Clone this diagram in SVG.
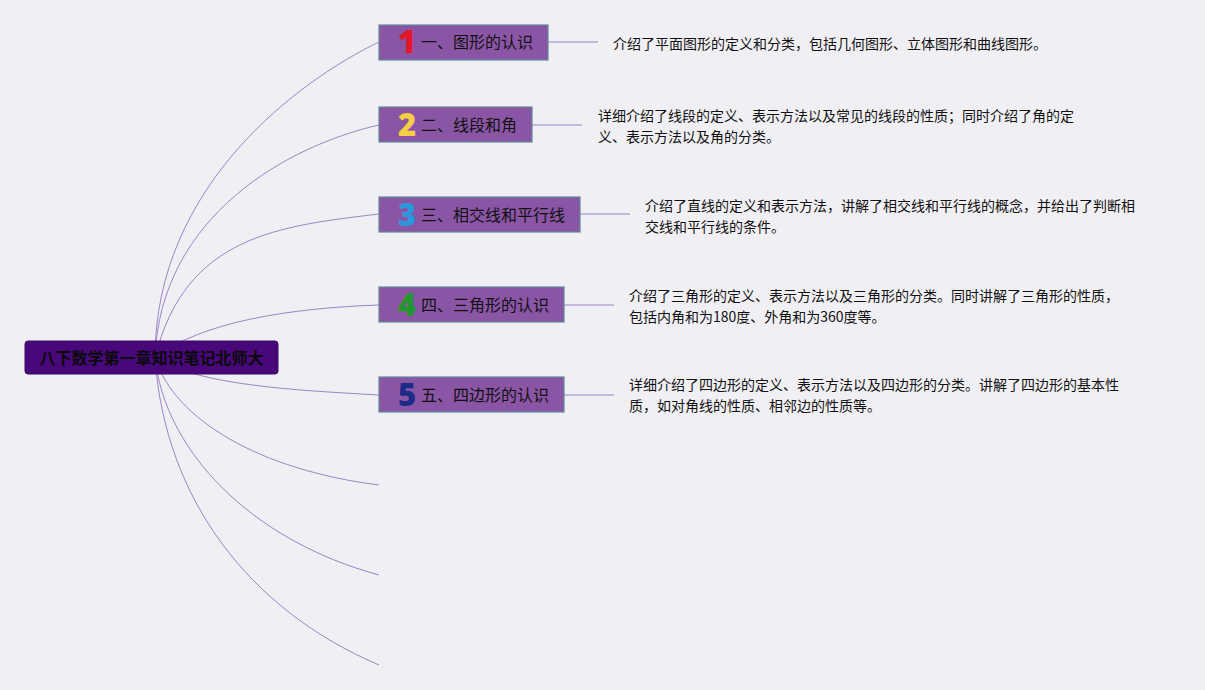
<svg xmlns="http://www.w3.org/2000/svg" width="1205" height="690" viewBox="0 0 1205 690">
<style>
.bg{fill:#f0eff3}
.curve{fill:none;stroke:#9a86c6;stroke-width:1}
.stub{fill:none;stroke:#b8a6d6;stroke-width:1.5}
.box{fill:#8b55a6;stroke:#5e8a98;stroke-width:1.2}
.root{fill:#48087a;stroke:#3a0862;stroke-width:1}
.lbl{font-family:"Noto Sans CJK SC","Noto Sans",sans-serif;font-size:16px;fill:#111}
.rt{font-family:"Noto Sans CJK SC","Noto Sans",sans-serif;font-size:16px;font-weight:bold;fill:#0a0a0a}
.num{font-family:"Open Sans","Noto Sans",sans-serif;font-size:31px;font-weight:800;text-anchor:middle}
.desc{font-family:"Noto Sans CJK SC","Noto Sans",sans-serif;font-size:14px;fill:#111}
</style>
<rect class="bg" x="0" y="0" width="1205" height="690"/>
<g id="connectors">
<path class="curve" d="M155,358 C155,185 300,80 379,42"/>
<path class="curve" d="M155,358 C160,215 290,145 379,125"/>
<path class="curve" d="M155,358 C185,235 280,226 379,214"/>
<path class="curve" d="M155,358 C200,322 290,308 379,305"/>
<path class="curve" d="M155,358 C200,385 290,390 379,395"/>
<path class="curve" d="M155,358 C175,420 260,470 379,485"/>
<path class="curve" d="M155,358 C165,450 250,540 379,575"/>
<path class="curve" d="M155,358 C165,500 250,610 379,665"/>
<path class="stub" d="M548,42 H598"/>
<path class="stub" d="M532,125 H582"/>
<path class="stub" d="M580,214 H630"/>
<path class="stub" d="M564,305 H614"/>
<path class="stub" d="M564,395 H614"/>
</g>
<g id="root">
<rect class="root" x="25" y="341" width="253" height="33" rx="3"/>
<text class="rt" x="151.5" y="363.5" text-anchor="middle">八下数学第一章知识笔记北师大</text>
</g>
<g id="n1">
<rect class="box" x="379" y="25" width="169" height="35"/>
<text class="num" x="407" y="53" fill="#e3162c">1</text>
<text class="lbl" x="421" y="48">一、图形的认识</text>
</g>
<g id="n2">
<rect class="box" x="379" y="107" width="153" height="35"/>
<text class="num" x="407" y="136" fill="#f4cf45">2</text>
<text class="lbl" x="421" y="131">二、线段和角</text>
</g>
<g id="n3">
<rect class="box" x="379" y="197" width="201" height="35"/>
<text class="num" x="407" y="226" fill="#2a98dd">3</text>
<text class="lbl" x="421" y="221">三、相交线和平行线</text>
</g>
<g id="n4">
<rect class="box" x="379" y="287" width="185" height="35"/>
<text class="num" x="407" y="316" fill="#24962f">4</text>
<text class="lbl" x="421" y="311">四、三角形的认识</text>
</g>
<g id="n5">
<rect class="box" x="379" y="377" width="185" height="35"/>
<text class="num" x="407" y="406" fill="#1d2a88">5</text>
<text class="lbl" x="421" y="401">五、四边形的认识</text>
</g>
<g id="d1">
<text class="desc" x="613" y="49">介绍了平面图形的定义和分类，包括几何图形、立体图形和曲线图形。</text>
</g>
<g id="d2">
<text class="desc" x="598" y="121">详细介绍了线段的定义、表示方法以及常见的线段的性质；同时介绍了角的定</text>
<text class="desc" x="598" y="142">义、表示方法以及角的分类。</text>
</g>
<g id="d3">
<text class="desc" x="645" y="211">介绍了直线的定义和表示方法，讲解了相交线和平行线的概念，并给出了判断相</text>
<text class="desc" x="645" y="232">交线和平行线的条件。</text>
</g>
<g id="d4">
<text class="desc" x="629" y="301">介绍了三角形的定义、表示方法以及三角形的分类。同时讲解了三角形的性质，</text>
<text class="desc" x="629" y="322">包括内角和为180度、外角和为360度等。</text>
</g>
<g id="d5">
<text class="desc" x="629" y="390">详细介绍了四边形的定义、表示方法以及四边形的分类。讲解了四边形的基本性</text>
<text class="desc" x="629" y="411">质，如对角线的性质、相邻边的性质等。</text>
</g>
</svg>
